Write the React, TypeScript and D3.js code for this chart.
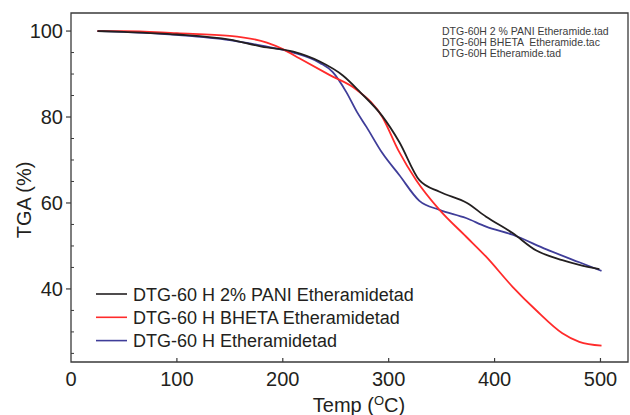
import * as d3 from "d3";
import React, { useRef, useEffect } from "react";

// series (temperature in °C, TGA in %)
const paniTemp = [25, 50, 100, 150, 180, 210, 235, 257, 273, 294, 310, 329, 348, 374, 392, 417, 439, 464, 480, 499];
const paniTga = [100, 99.8, 99.2, 98, 96.4, 95.2, 92.9, 89.6, 85.8, 80.2, 74.2, 65.3, 62.6, 60, 56.8, 53, 49, 46.7, 45.6, 44.6];

const bhetaTemp = [25, 50, 100, 150, 185, 200, 216, 244, 270, 294, 309, 326, 348, 373, 392, 417, 439, 464, 480, 501];
const bhetaTga = [100, 100, 99.5, 98.9, 97.3, 95.8, 93.6, 89.8, 86.3, 80, 72.3, 65.3, 58.4, 52.2, 47.5, 40.5, 35.1, 29.7, 27.7, 26.8];

const etherTemp = [25, 50, 100, 150, 180, 210, 235, 247, 260, 270, 279, 294, 310, 329, 348, 373, 392, 417, 449, 480, 501];
const etherTga = [100, 99.8, 99.1, 97.9, 96.6, 95, 92.6, 90.5, 85.8, 81.2, 77.7, 71.6, 66.5, 60.5, 58.4, 56.5, 54.5, 52.6, 49.2, 46.2, 44.2];

const legendLabels = ["DTG-60 H 2% PANI Etheramidetad", "DTG-60 H BHETA Etheramidetad", "DTG-60 H Etheramidetad"];
const fileLabels = ["DTG-60H 2 % PANI Etheramide.tad", "DTG-60H BHETA  Etheramide.tac", "DTG-60H Etheramide.tad"];
const xTicks = [0, 100, 200, 300, 400, 500];
const yTicks = [40, 60, 80, 100];
const yMinor = [25, 30, 35, 45, 50, 55, 65, 70, 75, 85, 90, 95];

const colors = ["#231f20", "#ff2b2b", "#3f3d99"];

export default function App() {
  const ref = useRef<SVGSVGElement>(null);
  const width = 630;
  const height = 415;
  const left = 71, right = 628, top = 13, bottom = 362;

  useEffect(() => {
    const svg = d3.select(ref.current);
    svg.selectAll("*").remove();
    const font = "Arial, 'Liberation Sans', sans-serif";

    const x = d3.scaleLinear().domain([0, 526]).range([left, right]);
    const y = d3.scaleLinear().domain([23, 104.2]).range([bottom, top]);

    // frame
    svg.append("path")
      .attr("d", `M${left},${top}H${right}V${bottom}H${left}Z`)
      .attr("fill", "none")
      .attr("stroke", "#3a3a3a")
      .attr("stroke-width", 1.3);

    // x axis ticks (inward)
    xTicks.forEach((t) => {
      if (t > 0) {
        svg.append("line")
          .attr("x1", x(t)).attr("x2", x(t))
          .attr("y1", bottom).attr("y2", bottom - 4)
          .attr("stroke", "#3a3a3a").attr("stroke-width", 1.2);
      }
      svg.append("text")
        .attr("x", x(t)).attr("y", bottom + 24)
        .attr("text-anchor", "middle")
        .attr("font-family", font).attr("font-size", 20)
        .attr("fill", "#231f20")
        .text(t);
    });

    // y axis ticks
    yTicks.forEach((t) => {
      svg.append("line")
        .attr("x1", left - 5).attr("x2", left)
        .attr("y1", y(t)).attr("y2", y(t))
        .attr("stroke", "#3a3a3a").attr("stroke-width", 1.2);
      svg.append("text")
        .attr("x", left - 8).attr("y", y(t) + 7)
        .attr("text-anchor", "end")
        .attr("font-family", font).attr("font-size", 20)
        .attr("fill", "#231f20")
        .text(t);
    });
    yMinor.forEach((t) => {
      svg.append("line")
        .attr("x1", left).attr("x2", left + 3)
        .attr("y1", y(t)).attr("y2", y(t))
        .attr("stroke", "#3a3a3a").attr("stroke-width", 1);
    });

    // axis titles
    svg.append("text")
      .attr("transform", `translate(31,200) rotate(-90)`)
      .attr("text-anchor", "middle")
      .attr("font-family", font).attr("font-size", 20)
      .attr("fill", "#231f20")
      .text("TGA (%)");

    const xt = svg.append("text")
      .attr("x", 359).attr("y", 412)
      .attr("text-anchor", "middle")
      .attr("font-family", font).attr("font-size", 20)
      .attr("fill", "#231f20");
    xt.append("tspan").text("Temp (");
    xt.append("tspan").attr("font-size", 13).attr("dy", -7).text("O");
    xt.append("tspan").attr("dy", 7).text("C)");

    // curves
    const series = [
      { temp: paniTemp, tga: paniTga },
      { temp: bhetaTemp, tga: bhetaTga },
      { temp: etherTemp, tga: etherTga },
    ];
    const line = d3.line<[number, number]>()
      .x((d) => x(d[0]))
      .y((d) => y(d[1]))
      .curve(d3.curveMonotoneX);

    // draw blue, red, then black on top like the original
    [2, 1, 0].forEach((i) => {
      const s = series[i];
      const pts: [number, number][] = s.temp.map((t, k) => [t, s.tga[k]]);
      svg.append("path")
        .attr("d", line(pts))
        .attr("fill", "none")
        .attr("stroke", colors[i])
        .attr("stroke-width", 1.8);
    });

    // bottom-left legend
    legendLabels.forEach((lab, i) => {
      const ly = 294 + i * 23.3;
      svg.append("line")
        .attr("x1", 96).attr("x2", 127)
        .attr("y1", ly).attr("y2", ly)
        .attr("stroke", colors[i]).attr("stroke-width", 1.6);
      svg.append("text")
        .attr("x", 133).attr("y", ly + 6.5)
        .attr("font-family", font).attr("font-size", 18)
        .attr("fill", "#231f20")
        .text(lab);
    });

    // top-right file names
    fileLabels.forEach((lab, i) => {
      svg.append("text")
        .attr("x", 442).attr("y", 35 + i * 11.2)
        .attr("font-family", font).attr("font-size", 10.5)
        .attr("fill", "#3d3d3d")
        .style("white-space", "pre")
        .text(lab);
    });
  }, []);

  return (
    <svg
      ref={ref}
      width={width}
      height={height}
      style={{ position: "absolute", left: 0, top: 0, background: "#fff" }}
    />
  );
}
